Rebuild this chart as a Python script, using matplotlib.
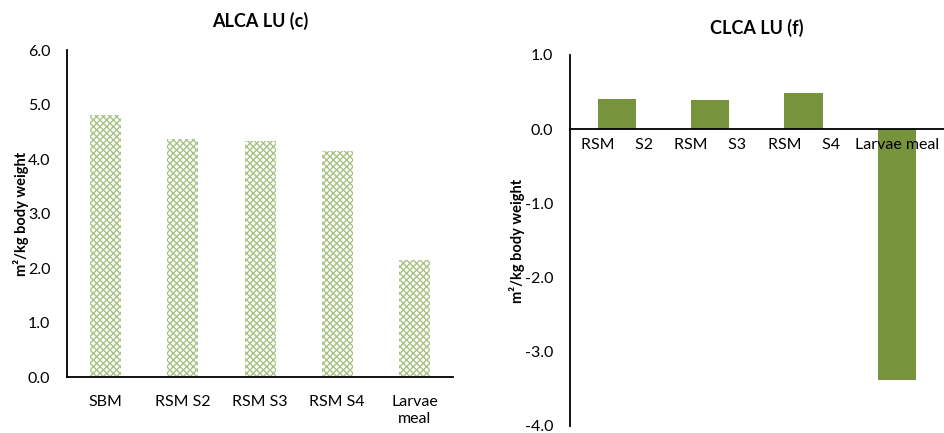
import matplotlib.pyplot as plt
import numpy as np

plt.rcParams['font.family'] = ['Lato', 'DejaVu Sans']

# attributional LCA, land use
alca_labels = ["SBM", "RSM S2", "RSM S3", "RSM S4", "Larvae\nmeal"]
alca_values = [4.81, 4.37, 4.34, 4.14, 2.15]

# consequential LCA, land use
clca_labels = ["RSM     S2", "RSM     S3", "RSM     S4", "Larvae meal"]
clca_values = [0.41, 0.39, 0.48, -3.38]

ylabel = "m²/kg body weight"

fig = plt.figure(figsize=(9.44, 4.33), dpi=100)

# left panel: hatched bars
ax1 = fig.add_axes([0.071, 0.1293, 0.409, 0.755])
x1 = np.arange(len(alca_values))
ax1.bar(x1, alca_values, width=0.4, facecolor="white", edgecolor="#a8c283",
        hatch="xxxxx", linewidth=0)
ax1.set_xlim(-0.5, len(alca_values) - 0.5)
ax1.set_ylim(0, 6)
ax1.set_yticks(np.arange(0, 6.1, 1.0))
ax1.set_yticklabels([f"{v:.1f}" for v in np.arange(0, 6.1, 1.0)])
ax1.set_xticks(x1)
ax1.set_xticklabels(alca_labels, va="top", linespacing=1.25)
ax1.tick_params(length=0, labelsize=11.5, pad=13)
ax1.tick_params(axis="y", pad=12)
for s in ["top", "right"]:
    ax1.spines[s].set_visible(False)
for s in ["left", "bottom"]:
    ax1.spines[s].set_linewidth(1.3)
ax1.set_title("ALCA LU (c)", fontsize=13, fontweight="bold", pad=17)
ax1.set_ylabel(ylabel, fontsize=10.5, fontweight="bold", labelpad=-1)

# right panel: solid bars around zero
ax2 = fig.add_axes([0.6038, 0.0162, 0.396, 0.857])
x2 = np.arange(len(clca_values))
ax2.bar(x2, clca_values, width=0.41, color="#77933c", zorder=1)
ax2.set_xlim(-0.5, len(clca_values) - 0.5)
ax2.set_ylim(-4, 1)
ax2.set_yticks(np.arange(-4, 1.1, 1.0))
ax2.set_yticklabels([f"{v:.1f}" for v in np.arange(-4, 1.1, 1.0)])
ax2.set_xticks([])
ax2.spines["bottom"].set_position(("data", 0))
ax2.spines["bottom"].set_zorder(3)
for s in ["top", "right"]:
    ax2.spines[s].set_visible(False)
for s in ["left", "bottom"]:
    ax2.spines[s].set_linewidth(1.3)
ax2.tick_params(length=0, labelsize=11.5, pad=12)
for xi, lab in zip(x2, clca_labels):
    ax2.text(xi, -0.22, lab, ha="center", va="center", fontsize=11.5, zorder=4)
ax2.set_title("CLCA LU (f)", fontsize=13, fontweight="bold", pad=15)
ax2.set_ylabel(ylabel, fontsize=10.5, fontweight="bold", labelpad=0)

fig.savefig("out.png", dpi=100, facecolor="white")
